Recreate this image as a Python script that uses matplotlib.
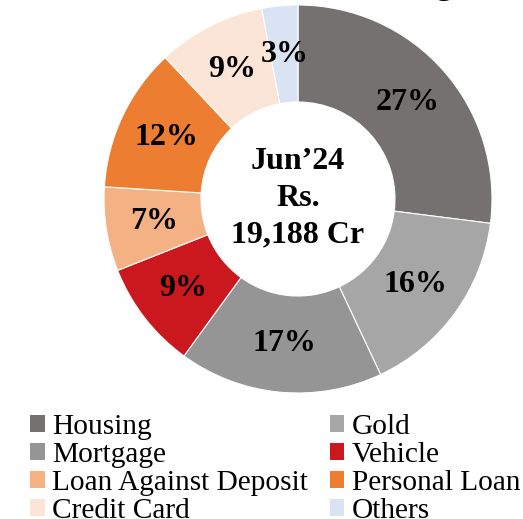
import matplotlib.pyplot as plt
from matplotlib.patches import Patch

# Loan book mix, Jun'24
categories = ["Housing", "Gold", "Mortgage", "Vehicle", "Loan Against Deposit",
              "Personal Loan", "Credit Card", "Others"]
shares = [27, 16, 17, 9, 7, 12, 9, 3]
colors = ["#767171", "#A6A6A6", "#959595", "#CB181F", "#F4B183",
          "#ED7D31", "#FBE5D6", "#DAE3F3"]
center_lines = ["Jun\u201924", "Rs.", "19,188 Cr"]

plt.rcParams["font.family"] = ["Liberation Serif", "DejaVu Serif"]

fig = plt.figure(figsize=(5.23, 5.19), dpi=100)
ax = fig.add_axes([104 / 523, 1 - 393 / 519, 388 / 523, 388 / 519])

wedges, texts, autotexts = ax.pie(
    shares, colors=colors, startangle=90, counterclock=False,
    radius=1.0, autopct="%d%%", pctdistance=0.75,
    wedgeprops=dict(width=0.5, edgecolor="white", linewidth=0.8),
    textprops=dict(fontsize=23, fontweight="bold", color="black"))
ax.set_xlim(-1, 1)
ax.set_ylim(-1, 1)
ax.set_aspect("equal")
ax.axis("off")

ax.text(0, 0.005, "\n".join(center_lines), ha="center", va="center",
        fontsize=23, fontweight="bold", linespacing=1.35)

# cut-off title remnant at the top edge
fig.text(443 / 523, 1 + 6 / 519, "g", ha="center", va="baseline",
         fontsize=24, fontweight="bold")

# legend, filled row by row
order = [0, 2, 4, 6, 1, 3, 5, 7]
handles = [Patch(facecolor=colors[i], edgecolor="none") for i in order]
labels = [categories[i] for i in order]
fig.legend(handles, labels, ncol=2, loc="upper left",
           bbox_to_anchor=(30 / 523, 1 - 414 / 519), frameon=False,
           fontsize=21.2, handlelength=0.5, handleheight=0.5,
           handletextpad=0.24, columnspacing=0.75, labelspacing=0.07,
           borderpad=0, borderaxespad=0)

fig.savefig("out.png", dpi=100)
